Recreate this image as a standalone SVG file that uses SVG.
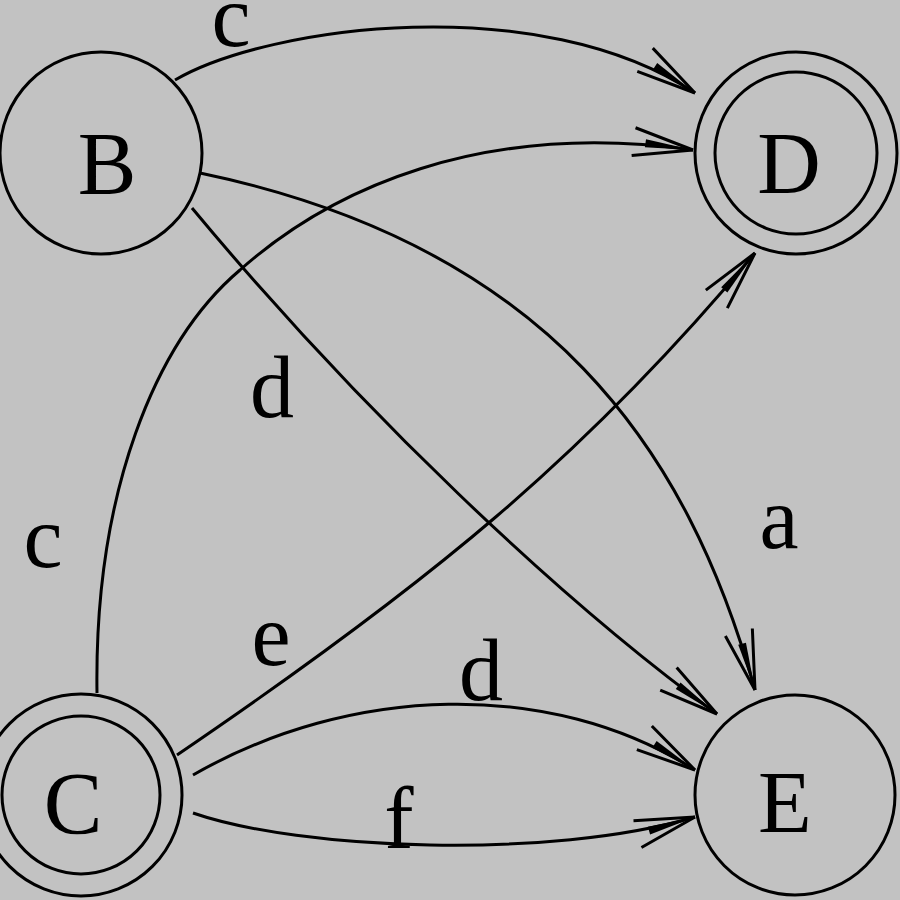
<svg xmlns="http://www.w3.org/2000/svg" width="900" height="900" viewBox="0 0 900 900">
<style>
.st{fill:none;stroke:#000;stroke-width:3}
.edge{fill:none;stroke:#000;stroke-width:3;marker-end:url(#arr)}
text{font-family:"Liberation Serif","Times New Roman",serif;font-size:88px;fill:#000;text-anchor:middle}
</style>
<defs>
<marker id="arr" markerUnits="userSpaceOnUse" markerWidth="80" markerHeight="40" viewBox="-70 -20 80 40" refX="0" refY="0" orient="auto" overflow="visible">
<path d="M0,0 L-60,-14 M0,0 L-60,14" fill="none" stroke="#000" stroke-width="3"/>
<path d="M0,0 L-48,-4 L-48,4 Z" fill="#000"/>
</marker>
</defs>
<rect x="0" y="0" width="900" height="900" fill="#c2c2c2"/>
<g id="connectors">
<path id="e-BD-c" class="edge" d="M175,80 C270,25 540,-10 695,93"/>
<path id="e-CD-c" class="edge" d="M97,693 C94,493 155,342 240,270 C330,190 480,120 693,150"/>
<path id="e-BE-a" class="edge" d="M200,173 C550,246 688,450 755,690"/>
<path id="e-BE-d" class="edge" d="M192,208 C360,410 560,600 717,714"/>
<path id="e-CD-e" class="edge" d="M177,755 C427,585 585,457 755,253"/>
<path id="e-CE-d" class="edge" d="M193,775 C350,685 550,678 695,770"/>
<path id="e-CE-f" class="edge" d="M193,813 C300,850 550,860 695,817"/>
</g>
<g id="labels">
<text x="231" y="46">c</text>
<text x="43" y="567">c</text>
<text x="272" y="417">d</text>
<text x="779" y="548">a</text>
<text x="271" y="665">e</text>
<text x="481" y="700">d</text>
<text x="399" y="848">f</text>
</g>
<g id="node-B">
<circle class="st" cx="101" cy="153" r="101"/>
<text x="107" y="193">B</text>
</g>
<g id="node-D">
<circle class="st" cx="796" cy="153" r="101"/>
<circle class="st" cx="796" cy="153" r="81"/>
<text x="789" y="193">D</text>
</g>
<g id="node-C">
<circle class="st" cx="81" cy="795" r="101"/>
<circle class="st" cx="81" cy="795" r="79"/>
<text x="73" y="833">C</text>
</g>
<g id="node-E">
<circle class="st" cx="795" cy="795" r="100"/>
<text x="785" y="832">E</text>
</g>
</svg>
